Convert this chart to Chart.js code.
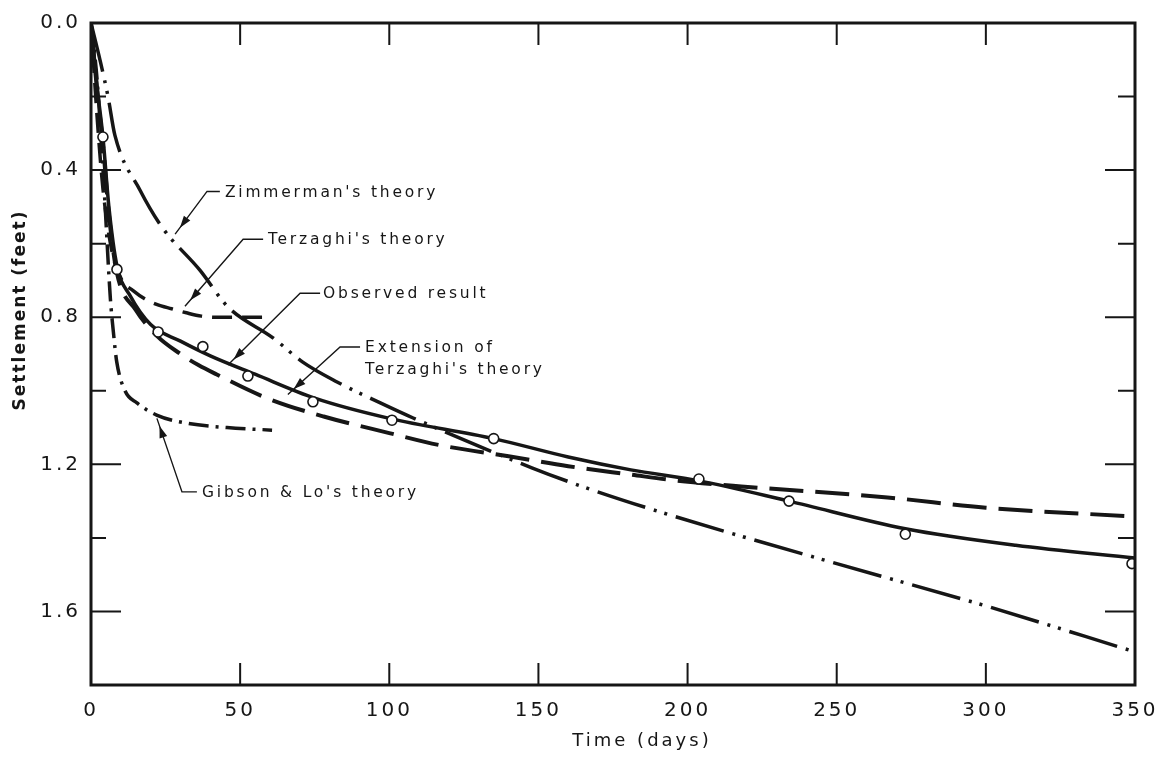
<!DOCTYPE html>
<html>
<head>
<meta charset="utf-8">
<title>Settlement vs time</title>
<script src="https://cdn.jsdelivr.net/npm/chart.js@4.4.1/dist/chart.umd.min.js"></script>
<style>
  body { margin: 0; background: #fff; }
  #wrap { width: 1163px; height: 758px; position: relative; }
</style>
</head>
<body>
<div id="wrap"><canvas id="settleChart"></canvas></div>
<script>
// tick values
const xTickValues = [0, 50, 100, 150, 200, 250, 300, 350];
const yTickValues = [0, 0.4, 0.8, 1.2, 1.6];
const yMinorValues = [0.2, 0.6, 1.0, 1.4];

// observed points (circles)
const obsDays = [4, 8.7, 22.5, 37.5, 52.6, 74.4, 100.9, 135, 203.8, 234, 273, 349];
const obsFeet = [0.31, 0.67, 0.84, 0.88, 0.96, 1.03, 1.08, 1.13, 1.24, 1.30, 1.39, 1.47];

// observed result curve
const obsCurveDays = [0, 2, 4, 6, 8.7, 13, 20, 30, 40, 55, 75, 100, 135, 160, 181, 204, 234, 273, 310, 350];
const obsCurveFeet = [0, 0.17, 0.31, 0.5, 0.66, 0.74, 0.82, 0.865, 0.905, 0.955, 1.02, 1.075, 1.13, 1.18, 1.215, 1.245, 1.30, 1.375, 1.42, 1.455];

// Terzaghi's theory
const terzDays = [0, 2, 4, 7, 10.4, 14, 18, 22, 27, 32, 37, 42, 50, 58];
const terzFeet = [0, 0.25, 0.45, 0.62, 0.70, 0.727, 0.75, 0.765, 0.777, 0.788, 0.797, 0.80, 0.80, 0.80];

// Extension of Terzaghi's theory
const extDays = [0, 2, 4, 6, 8.7, 15, 22, 30, 36, 42, 59, 78, 100, 117, 140, 160, 181, 195, 218, 267, 300, 350];
const extFeet = [0, 0.18, 0.33, 0.52, 0.68, 0.78, 0.85, 0.90, 0.93, 0.955, 1.02, 1.07, 1.115, 1.148, 1.178, 1.205, 1.228, 1.243, 1.26, 1.29, 1.318, 1.342];

// Zimmerman's theory
const zimDays = [0, 3, 5.7, 8, 16.4, 23.8, 36.5, 45.9, 61, 71, 82.5, 97, 108, 148, 166, 195, 250, 300, 350];
const zimFeet = [0, 0.1, 0.2, 0.305, 0.454, 0.555, 0.672, 0.772, 0.856, 0.922, 0.976, 1.033, 1.074, 1.21, 1.264, 1.34, 1.47, 1.585, 1.71];

// Gibson & Lo's theory
const gibDays = [0, 2, 4.4, 6.5, 7.5, 8.6, 11.4, 15.4, 22, 32, 45.6, 60.7];
const gibFeet = [0, 0.15, 0.45, 0.75, 0.84, 0.92, 1.0, 1.033, 1.066, 1.088, 1.10, 1.107];

// annotation labels (text left edge, in data units)
const noteTexts = ["Zimmerman's theory", "Terzaghi's theory", "Observed result", "Extension of", "Terzaghi's theory", "Gibson & Lo's theory"];
const noteDays = [44.9, 59.3, 77.8, 91.9, 91.9, 37.2];
const noteFeet = [0.462, 0.590, 0.737, 0.884, 0.943, 1.278];

// leader lines, last point is the arrow tip
const leaders = [
  [[43.2, 0.458], [38.9, 0.458], [28.2, 0.574]],
  [[57.7, 0.588], [51, 0.588], [31.5, 0.77]],
  [[76.8, 0.735], [70.1, 0.735], [45.9, 0.93]],
  [[90.2, 0.881], [83.5, 0.881], [66, 1.01]],
  [[35.5, 1.275], [30.5, 1.275], [22.1, 1.075]]
];

const pts = (xs, ys) => xs.map((x, i) => ({ x: x, y: ys[i] }));
const ink = '#161616';

function lineSet(label, xs, ys, dash, width) {
  return {
    label: label,
    data: pts(xs, ys),
    showLine: true,
    borderColor: ink,
    borderWidth: width,
    borderDash: dash,
    borderCapStyle: 'butt',
    pointRadius: 0,
    cubicInterpolationMode: 'monotone',
    fill: false
  };
}

// frame, inner ticks, axis titles and notes
const decorPlugin = {
  id: 'decor',
  beforeDraw(chart) {
    chart.ctx.letterSpacing = '3px';
  },
  afterDraw(chart) {
    const ctx = chart.ctx;
    const a = chart.chartArea;
    const xs = chart.scales.x, ys = chart.scales.y;
    ctx.save();
    ctx.letterSpacing = '0px';
    ctx.strokeStyle = ink;
    ctx.lineWidth = 3;
    ctx.strokeRect(a.left, a.top, a.right - a.left, a.bottom - a.top);

    ctx.lineWidth = 2;
    ctx.beginPath();
    xTickValues.slice(1, -1).forEach(v => {
      const px = xs.getPixelForValue(v);
      ctx.moveTo(px, a.bottom); ctx.lineTo(px, a.bottom - 22);
      ctx.moveTo(px, a.top); ctx.lineTo(px, a.top + 22);
    });
    yTickValues.slice(1).forEach(v => {
      const py = ys.getPixelForValue(v);
      ctx.moveTo(a.left, py); ctx.lineTo(a.left + 30, py);
      ctx.moveTo(a.right, py); ctx.lineTo(a.right - 30, py);
    });
    yMinorValues.forEach(v => {
      const py = ys.getPixelForValue(v);
      ctx.moveTo(a.left, py); ctx.lineTo(a.left + 15, py);
      ctx.moveTo(a.right, py); ctx.lineTo(a.right - 17, py);
    });
    ctx.stroke();

    // axis titles
    ctx.fillStyle = ink;
    ctx.textAlign = 'center';
    ctx.textBaseline = 'middle';
    ctx.font = '18px "DejaVu Sans"';
    ctx.letterSpacing = '3px';
    ctx.fillText('Time (days)', 642, 741);
    ctx.font = 'bold 17px "DejaVu Sans"';
    ctx.letterSpacing = '2px';
    ctx.save();
    ctx.translate(21, 310);
    ctx.rotate(-Math.PI / 2);
    ctx.fillText('Settlement (feet)', 0, 0);
    ctx.restore();

    // notes
    ctx.font = '15.5px "DejaVu Sans"';
    ctx.letterSpacing = '2.8px';
    ctx.textAlign = 'left';
    noteTexts.forEach((t, i) => {
      ctx.fillText(t, xs.getPixelForValue(noteDays[i]), ys.getPixelForValue(noteFeet[i]));
    });

    // leader arrows
    ctx.lineWidth = 1.4;
    leaders.forEach(line => {
      const p = line.map(q => [xs.getPixelForValue(q[0]), ys.getPixelForValue(q[1])]);
      ctx.beginPath();
      ctx.moveTo(p[0][0], p[0][1]);
      for (let i = 1; i < p.length; i++) ctx.lineTo(p[i][0], p[i][1]);
      ctx.stroke();
      const tip = p[p.length - 1], prev = p[p.length - 2];
      const ang = Math.atan2(tip[1] - prev[1], tip[0] - prev[0]);
      const bx = tip[0] - Math.cos(ang) * 8, by = tip[1] - Math.sin(ang) * 8;
      ctx.beginPath();
      ctx.moveTo(bx, by);
      ctx.lineTo(bx - Math.cos(ang) * 12 + Math.sin(ang) * 4, by - Math.sin(ang) * 12 - Math.cos(ang) * 4);
      ctx.lineTo(bx - Math.cos(ang) * 12 - Math.sin(ang) * 4, by - Math.sin(ang) * 12 + Math.cos(ang) * 4);
      ctx.closePath();
      ctx.fill();
    });
    ctx.restore();
  }
};

const tickFont = { family: '"DejaVu Sans"', size: 20 };

new Chart(document.getElementById('settleChart'), {
  type: 'scatter',
  data: {
    datasets: [
      {
        label: 'Observed points',
        data: pts(obsDays, obsFeet),
        showLine: false,
        pointRadius: 5,
        pointBackgroundColor: '#fff',
        pointBorderColor: ink,
        pointBorderWidth: 1.6
      },
      lineSet('Observed result', obsCurveDays, obsCurveFeet, [], 3.5),
      lineSet("Terzaghi's theory", terzDays, terzFeet, [20, 10], 3.5),
      lineSet("Extension of Terzaghi's theory", extDays, extFeet, [34, 12], 4),
      lineSet("Zimmerman's theory", zimDays, zimFeet, [50, 9, 3, 8, 3, 9], 3.5),
      lineSet("Gibson & Lo's theory", gibDays, gibFeet, [20, 7, 3, 7], 3.5)
    ]
  },
  options: {
    responsive: true,
    maintainAspectRatio: false,
    animation: false,
    layout: { padding: { top: 23, right: 28, bottom: 0, left: 0 } },
    plugins: { legend: { display: false }, tooltip: { enabled: false } },
    scales: {
      x: {
        type: 'linear',
        min: 0,
        max: 350,
        grid: { display: false },
        border: { display: false },
        afterBuildTicks: s => { s.ticks = xTickValues.map(v => ({ value: v })); },
        afterFit: s => { s.height = 73; },
        ticks: { font: tickFont, color: ink, padding: 6, maxRotation: 0 }
      },
      y: {
        type: 'linear',
        reverse: true,
        min: 0,
        max: 1.8,
        grid: { display: false },
        border: { display: false },
        afterBuildTicks: s => { s.ticks = yTickValues.map(v => ({ value: v })); },
        afterFit: s => { s.width = 91; },
        ticks: { font: tickFont, color: ink, padding: 2, callback: v => v.toFixed(1) }
      }
    }
  },
  plugins: [decorPlugin]
});
</script>
</body>
</html>
